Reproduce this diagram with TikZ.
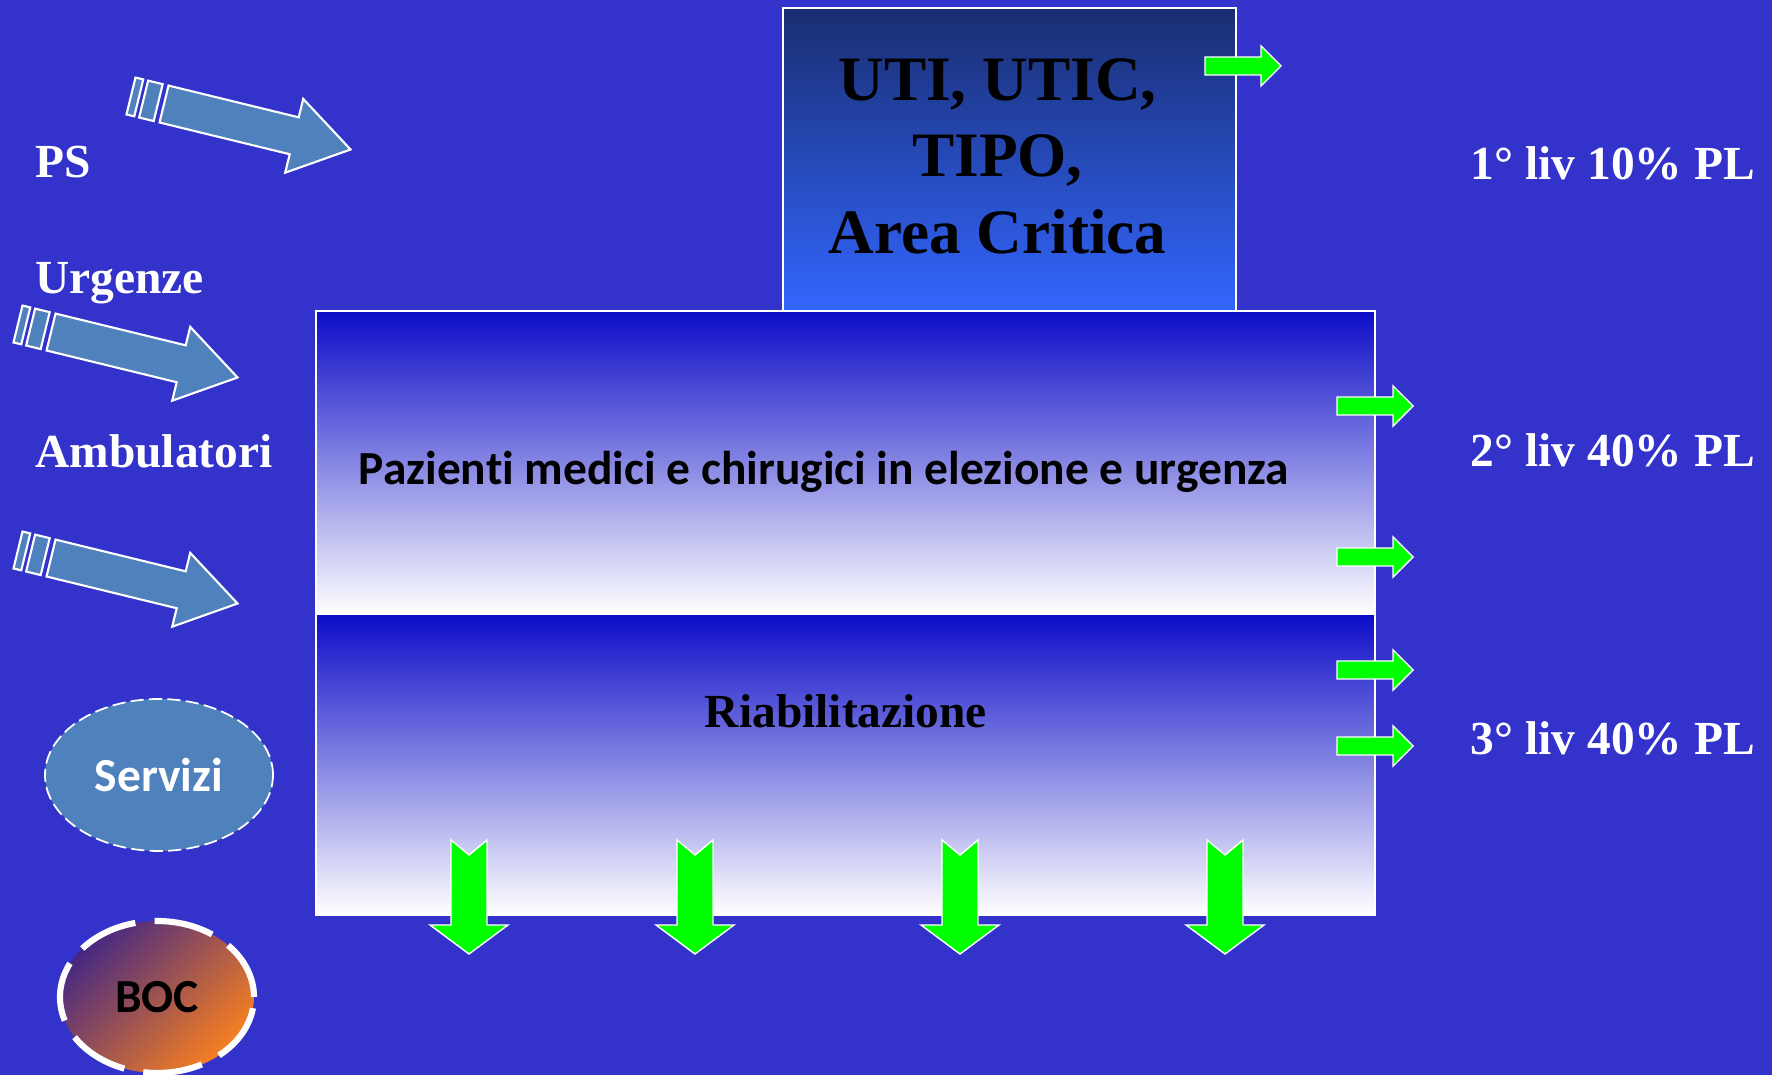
\documentclass[tikz,border=0pt]{standalone}
\usepackage{fontspec}
\setmainfont{Liberation Serif}
\newfontfamily\calibri[Ligatures=NoCommon]{Carlito}
\usetikzlibrary{calc}
\usetikzlibrary{shapes.geometric}

\definecolor{sfondo}{RGB}{51,51,204}
\definecolor{acciaio}{RGB}{79,129,189}
\definecolor{verde}{RGB}{0,255,0}
\definecolor{blunotte}{RGB}{25,45,112}
\definecolor{bluchiaro}{RGB}{51,102,255}
\definecolor{blumedio}{RGB}{36,70,190}
\definecolor{bluscuro}{RGB}{12,12,200}
\definecolor{lavanda}{RGB}{178,178,228}
\definecolor{viola}{RGB}{70,40,130}
\definecolor{arancio}{RGB}{248,128,32}

\tikzset{
	livello/.style={text=white, inner sep=0pt, font=\bfseries\fontsize{27}{32}\selectfont},
	reparto/.style={draw=white, line width=1pt, top color=bluscuro, middle color=lavanda, bottom color=white, minimum width=21.18cm, inner sep=0pt},
	freccia/.style={fill=verde, draw=white, line width=0.8pt},
	striata/.style={fill=acciaio, draw=white, line width=1.2pt}
}

\begin{document}
\begin{tikzpicture}
	\fill[sfondo] (0,0) rectangle (35.44,21.5);
	\useasboundingbox (0,0) rectangle (35.44,21.5);

	\foreach \px/\py in {2.62/19.58, 0.36/15.02, 0.36/10.5}
	{
		\begin{scope}[shift={(\px,\py)}, rotate=-13.7]
			\draw[striata] (0,-0.38) rectangle (0.16,0.38);
			\draw[striata] (0.26,-0.38) rectangle (0.56,0.38);
			\draw[striata] (0.68,-0.38) -- (3.36,-0.38) -- (3.36,-0.76) -- (4.52,0) -- (3.36,0.76) -- (3.36,0.38) -- (0.68,0.38) -- cycle;
		\end{scope}
	}

	\node[draw=white, line width=1pt, top color=blunotte, middle color=blumedio, bottom color=bluchiaro, minimum width=9.06cm, minimum height=6.06cm] (uti) at (20.19,18.31) {};
	\node[font=\bfseries\fontsize{36}{43.5}\selectfont, align=center] (utitxt) at (19.95,18.38) {UTI, UTIC,\\TIPO,\\Area Critica};

	\node[reparto, minimum height=6.06cm] (medici) at (16.91,12.25) {};
	\node[reparto, minimum height=6.02cm] (riab) at (16.91,6.21) {};
	\node[font=\calibri\bfseries\fontsize{27}{32}\selectfont, anchor=base, inner sep=0pt] (pazienti) at (16.48,11.8) {Pazienti medici e chirugici in elezione e urgenza};
	\node[font=\bfseries\fontsize{27}{32}\selectfont, anchor=base, inner sep=0pt] (riabtxt) at (16.92,6.94) {Riabilitazione};

	\foreach \x/\y in {24.1/20.18, 26.74/13.38, 26.74/10.36, 26.74/8.1, 26.74/6.58}
	\draw[freccia] (\x,\y) ++(0,-0.18) -- ++(1.12,0) -- ++(0,-0.22) -- ++(0.4,0.4) -- ++(-0.4,0.4) -- ++(0,-0.22) -- ++(-1.12,0) -- cycle;
	\foreach \x in {9.38, 13.9, 19.2, 24.5}
	\draw[freccia] (\x-0.36,4.7) -- (\x,4.4) -- (\x+0.36,4.7) -- (\x+0.36,3.0) -- (\x+0.78,3.0) -- (\x,2.42) -- (\x-0.78,3.0) -- (\x-0.36,3.0) -- cycle;

	\node[livello, anchor=base west] (ps) at (0.7,17.94) {PS};
	\node[livello, anchor=base west] (urgenze) at (0.7,15.62) {Urgenze};
	\node[livello, anchor=base west] (ambulatori) at (0.7,12.14) {Ambulatori};
	\node[livello, anchor=base east] (liv1) at (35.1,17.9) {1° liv 10\% PL};
	\node[livello, anchor=base east] (liv2) at (35.1,12.16) {2° liv 40\% PL};
	\node[livello, anchor=base east] (liv3) at (35.1,6.4) {3° liv 40\% PL};

	\node[ellipse, fill=acciaio, draw=white, line width=1pt, dash pattern=on 7.5pt off 3pt, minimum width=4.56cm, minimum height=3.04cm, text=white, font=\calibri\bfseries\fontsize{27}{32}\selectfont] (servizi) at (3.18,6.0) {Servizi};
	\node[ellipse, top color=viola, bottom color=arancio, shading angle=45, draw=white, line width=3.5pt, dash pattern=on 34pt off 11pt, minimum width=3.88cm, minimum height=3.04cm, font=\calibri\bfseries\fontsize{27}{32}\selectfont] (boc) at (3.14,1.56) {BOC};
\end{tikzpicture}
\end{document}
